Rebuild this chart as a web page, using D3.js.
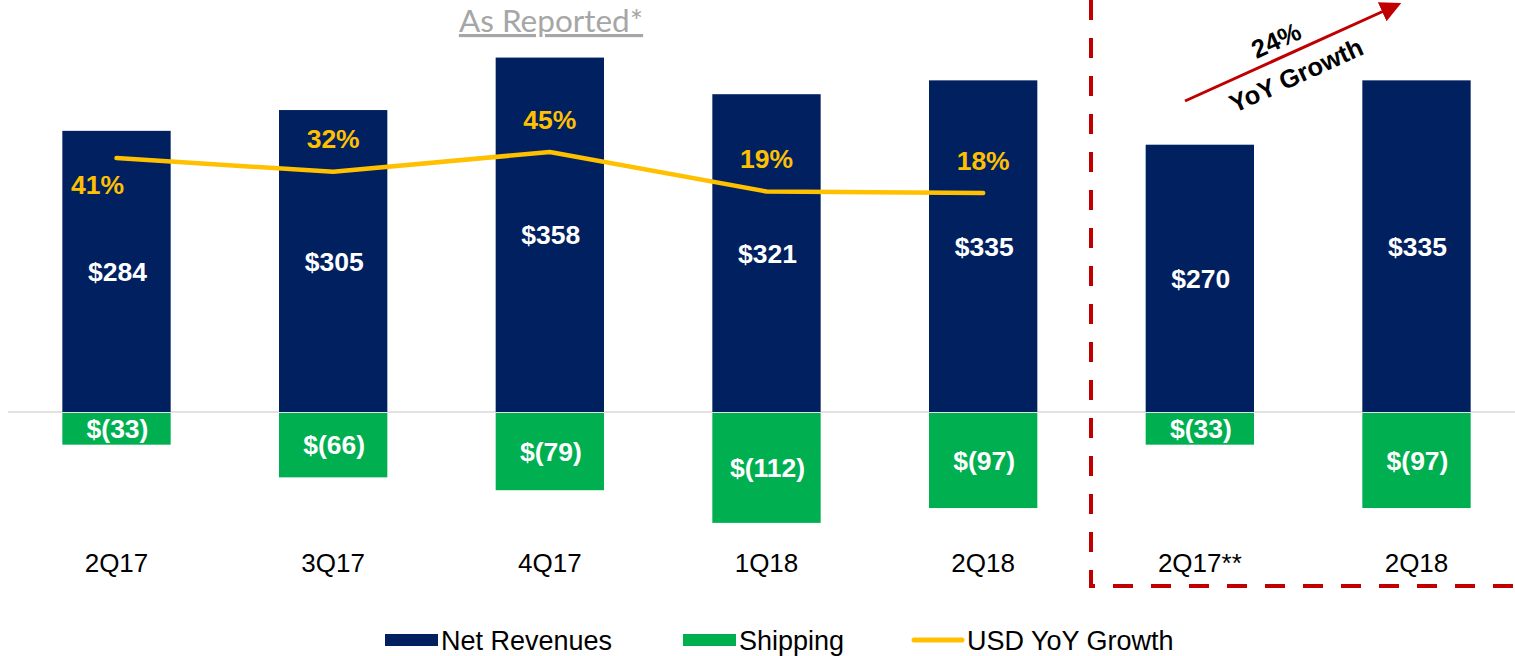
<!DOCTYPE html>
<meta charset="utf-8">
<html>
<head>
    <title>Net Revenues</title>
    <script src="https://d3js.org/d3.v7.min.js"></script>
    <style>
        body { margin: 0; background: #fff; }
        text { font-family: Arial, "Liberation Sans", sans-serif; }
    </style>
</head>
<body>
<div id="chart"></div>
<script type="text/javascript">

    // data
    var quarters = ["2Q17", "3Q17", "4Q17", "1Q18", "2Q18", "2Q17**", "2Q18"];
    var netRevenues = [284, 305, 358, 321, 335, 270, 335];
    var shipping = [-33, -66, -79, -112, -97, -33, -97];
    var yoyGrowth = [41, 32, 45, 19, 18];   // only the as-reported quarters
    var legendItems = ["Net Revenues", "Shipping", "USD YoY Growth"];

    var width = 1515, height = 656,
        navy = "#002060", green = "#00B050", gold = "#FFC000", red = "#C00000";

    var svg = d3.select("#chart").append("svg")
        .attr("width", width)
        .attr("height", height);

    var x = d3.scaleBand()
        .domain(d3.range(quarters.length))
        .range([-46, 1579])
        .padding(0.5);

    var y = d3.scaleLinear()
        .domain([-120, 380])
        .range([412 + 120 * 0.99, 412 - 380 * 0.99]);

    // growth line sits on its own (secondary) scale
    var y2 = d3.scaleLinear()
        .domain([0, 45])
        .range([220.4, 152]);

    var cx = function(i) { return x(i) + x.bandwidth() / 2; };

    // zero line
    svg.append("line")
        .attr("x1", 8).attr("x2", width)
        .attr("y1", y(0)).attr("y2", y(0))
        .style("stroke", "#d9d9d9")
        .style("stroke-width", 1.5);

    // net revenue bars
    svg.selectAll(".rev")
        .data(netRevenues)
        .enter().append("rect")
        .attr("class", "rev")
        .attr("x", (d, i) => x(i))
        .attr("y", d => y(d))
        .attr("width", x.bandwidth())
        .attr("height", d => y(0) - y(d))
        .style("fill", navy);

    // shipping bars
    svg.selectAll(".ship")
        .data(shipping)
        .enter().append("rect")
        .attr("class", "ship")
        .attr("x", (d, i) => x(i))
        .attr("y", y(0) + 1)
        .attr("width", x.bandwidth())
        .attr("height", d => y(d) - y(0) - 1)
        .style("fill", green);

    // bar labels
    svg.selectAll(".revLabel")
        .data(netRevenues)
        .enter().append("text")
        .attr("x", (d, i) => cx(i) + 1)
        .attr("y", d => (y(d) + y(0)) / 2)
        .attr("dy", "0.36em")
        .style("text-anchor", "middle")
        .style("font-weight", "bold")
        .style("font-size", "26.5px")
        .style("fill", "#fff")
        .text(d => "$" + d);

    svg.selectAll(".shipLabel")
        .data(shipping)
        .enter().append("text")
        .attr("x", (d, i) => cx(i) + 1)
        .attr("y", d => (y(d) + y(0)) / 2)
        .attr("dy", "0.36em")
        .style("text-anchor", "middle")
        .style("font-weight", "bold")
        .style("font-size", "26.5px")
        .style("fill", "#fff")
        .text(d => "$(" + (-d) + ")");

    // category labels
    svg.selectAll(".cat")
        .data(quarters)
        .enter().append("text")
        .attr("x", (d, i) => cx(i))
        .attr("y", 572)
        .style("text-anchor", "middle")
        .style("font-size", "26px")
        .style("fill", "#000")
        .text(d => d);

    // yoy growth line
    var line = d3.line()
        .x((d, i) => cx(i))
        .y(d => y2(d));

    svg.append("path")
        .datum(yoyGrowth)
        .attr("d", line)
        .style("fill", "none")
        .style("stroke", gold)
        .style("stroke-width", 4.5)
        .style("stroke-linecap", "round")
        .style("stroke-linejoin", "round");

    svg.selectAll(".pct")
        .data(yoyGrowth)
        .enter().append("text")
        .attr("x", (d, i) => i == 0 ? cx(i) - 19 : cx(i))
        .attr("y", (d, i) => i == 0 ? y2(d) + 26 : y2(d) - 33)
        .attr("dy", "0.36em")
        .style("text-anchor", "middle")
        .style("font-weight", "bold")
        .style("font-size", "26.5px")
        .style("fill", gold)
        .text(d => d + "%");

    // title
    svg.append("text")
        .attr("x", 551)
        .attr("y", 32)
        .style("text-anchor", "middle")
        .style("font-family", "Lato, sans-serif")
        .style("font-size", "31.5px")
        .style("fill", "#a6a6a6")
        .style("text-decoration", "underline")
        .text("As Reported*");

    // dashed box around the like-for-like comparison
    svg.append("path")
        .attr("d", "M1091,0V586H" + width)
        .style("fill", "none")
        .style("stroke", red)
        .style("stroke-width", 4)
        .style("stroke-dasharray", "20,18");

    // growth arrow
    svg.append("defs").append("marker")
        .attr("id", "head")
        .attr("viewBox", "0 0 10 10")
        .attr("refX", 2).attr("refY", 5)
        .attr("markerWidth", 7).attr("markerHeight", 7)
        .attr("orient", "auto")
        .append("path")
        .attr("d", "M0,0L10,5L0,10z")
        .style("fill", red);

    svg.append("line")
        .attr("x1", 1185).attr("y1", 101)
        .attr("x2", 1386).attr("y2", 10)
        .style("stroke", red)
        .style("stroke-width", 3)
        .attr("marker-end", "url(#head)");

    var angle = -24.5;
    svg.append("text")
        .attr("transform", "translate(1276,40) rotate(" + angle + ")")
        .attr("dy", "0.36em")
        .style("text-anchor", "middle")
        .style("font-weight", "bold")
        .style("font-size", "25.5px")
        .text("24%");
    svg.append("text")
        .attr("transform", "translate(1296,75) rotate(" + angle + ")")
        .attr("dy", "0.36em")
        .style("text-anchor", "middle")
        .style("font-weight", "bold")
        .style("font-size", "25.5px")
        .text("YoY Growth");

    // legend
    var legendX = [385, 683, 911];
    var legend = svg.selectAll(".legend")
        .data(legendItems)
        .enter().append("g")
        .attr("class", "legend")
        .attr("transform", (d, i) => "translate(" + legendX[i] + ",640)");

    legend.each(function(d, i) {
        var g = d3.select(this);
        if (i < 2) {
            g.append("rect")
                .attr("x", 0).attr("y", -6)
                .attr("width", 53).attr("height", 12)
                .style("fill", i == 0 ? navy : green);
        } else {
            g.append("line")
                .attr("x1", 3).attr("x2", 51)
                .style("stroke", gold)
                .style("stroke-width", 5)
                .style("stroke-linecap", "round");
        }
    });

    legend.append("text")
        .attr("x", 56)
        .attr("dy", "0.36em")
        .style("font-size", "27px")
        .style("fill", "#000")
        .text(d => d);

</script>
</body>
</html>
